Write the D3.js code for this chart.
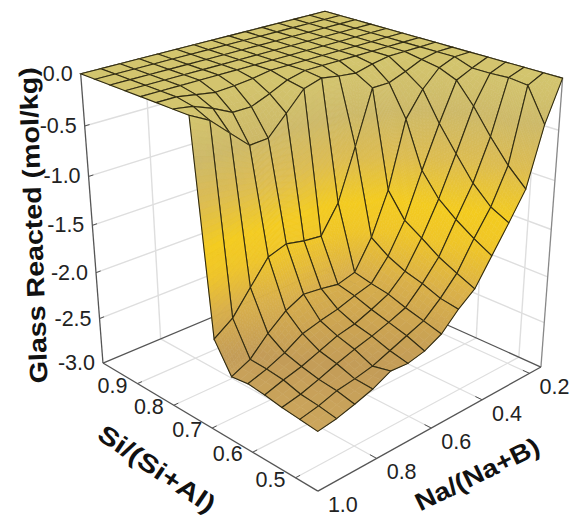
<!DOCTYPE html>
<html>
<head>
<meta charset="utf-8">
<script src="https://cdn.jsdelivr.net/npm/d3@7"></script>
<style>
html, body { margin: 0; padding: 0; background: #fff; }
text { font-family: "Liberation Sans", Arial, sans-serif; fill: #222; }
text.title { fill: #111; font-weight: bold; }
</style>
</head>
<body>
<svg id="chart" width="571" height="516"></svg>
<script>
// grid of the surface
const siGrid = [1.000, 0.961, 0.921, 0.882, 0.843, 0.804, 0.764, 0.725, 0.686, 0.646, 0.607, 0.568, 0.529, 0.489, 0.450];
const naGrid = [0.150, 0.211, 0.271, 0.332, 0.393, 0.454, 0.514, 0.575, 0.636, 0.696, 0.757, 0.818, 0.879, 0.939, 1.000];

// one row per Si value, one column per Na value
const glassReacted = [
  [0, 0, 0, 0, 0, 0, 0, 0, 0, 0, 0, 0, 0, 0, 0],
  [0, 0, 0, 0, 0, 0, 0, 0, 0, 0, 0, 0, 0, 0, 0],
  [0, 0, 0, 0, 0, 0, 0, 0, 0, 0, 0, 0, 0, 0, 0],
  [0, 0, 0, 0, 0, 0, 0, 0, 0, 0, 0, 0, 0, 0, 0],
  [0, 0, 0, 0, 0, 0, 0, 0, 0, 0, 0, 0, 0, 0, 0],
  [0, 0, 0, 0, 0, 0, 0, 0, 0, -0.03, -0.05, -0.06, -0.03, 0, 0],
  [0, 0, 0, 0, 0, 0, 0, 0, -0.04, -0.12, -0.19, -0.19, -0.1, -0.03, 0],
  [0, 0, 0, 0, -0.03, -0.07, -0.05, -0.02, -0.07, -0.25, -0.43, -0.44, -0.27, -0.1, 0],
  [0, 0, -0.03, -0.1, -0.16, -0.16, -0.68, -1.18, -1.45, -1.43, -1.39, -1.45, -1.68, -1.91, -2.04],
  [0, 0, -0.06, -0.22, -0.46, -1.11, -1.53, -1.82, -1.87, -1.84, -1.82, -1.91, -2.06, -2.24, -2.33],
  [0, -0.06, -0.13, -0.5, -0.91, -1.35, -1.65, -1.86, -1.91, -1.97, -2.01, -2.06, -2.17, -2.25, -2.31],
  [0, -0.06, -0.33, -0.74, -1.13, -1.46, -1.73, -1.89, -1.97, -2.04, -2.08, -2.15, -2.22, -2.27, -2.33],
  [0, -0.05, -0.57, -0.97, -1.27, -1.58, -1.78, -1.95, -2.02, -2.08, -2.13, -2.19, -2.26, -2.32, -2.36],
  [0, -0.07, -0.79, -1.14, -1.39, -1.67, -1.85, -2.0, -2.07, -2.14, -2.21, -2.25, -2.28, -2.34, -2.38],
  [0, -0.39, -0.96, -1.23, -1.49, -1.75, -1.88, -2.05, -2.14, -2.18, -2.17, -2.26, -2.32, -2.37, -2.4]
];

const siTicks = [0.9, 0.8, 0.7, 0.6, 0.5];
const naTicks = [1.0, 0.8, 0.6, 0.4, 0.2];
const zTicks = [0, -0.5, -1, -1.5, -2, -2.5, -3];

const colorStops = [0, -0.4, -0.8, -1.2, -1.45, -1.8, -2.2, -2.5];
const colorValues = ['#d3c56e', '#cdb968', '#dcbc50', '#f3cb1f', '#efc528', '#d9b04a', '#c39c58', '#d0ab5e'];

const siScale = d3.scaleLinear().domain([1.0, 0.45]).range([0, 1]);
const naScale = d3.scaleLinear().domain([0.15, 1.0]).range([0, 1]);
const zScale = d3.scaleLinear().domain([-3, 0]).range([0, 1]);
const color = d3.scaleLinear().domain(colorStops).range(colorValues).clamp(true);

// perspective camera fitted to the corners of the box in the picture
function project(si, na, z) {
  const a = siScale(si), b = naScale(na), c = zScale(z);
  const w = 1 - 0.123 * a - 0.123 * b - 0.08 * c;
  return [
    (325 + 149.4 * a - 234.7 * b - 26 * c) / w,
    (270 + 51.9 * a + 48.4 * b - 259.6 * c) / w
  ];
}

const svg = d3.select('#chart');
const line = d3.line();

function seg(g, p, q, stroke, width) {
  g.append('path')
    .attr('d', line([project(...p), project(...q)]))
    .attr('fill', 'none')
    .attr('stroke', stroke)
    .attr('stroke-width', width);
}

// walls and floor
const back = svg.append('g');
const gridColor = '#dedede';
const edgeColor = '#555';
naTicks.filter(n => n < 1).forEach(n => {
  seg(back, [1.0, n, 0], [1.0, n, -3], gridColor, 1.4);
  seg(back, [1.0, n, -3], [0.45, n, -3], gridColor, 1.2);
  seg(back, [0.45, n, -3], [0.465, n, -3], edgeColor, 1);
});
siTicks.forEach(s => {
  seg(back, [s, 0.15, 0], [s, 0.15, -3], gridColor, 1.4);
  seg(back, [s, 0.15, -3], [s, 1.0, -3], gridColor, 1.2);
  seg(back, [s, 1.0, -3], [s, 0.985, -3], edgeColor, 1);
});
zTicks.slice(1, -1).forEach(z => {
  seg(back, [1.0, 1.0, z], [1.0, 0.15, z], gridColor, 1.4);
  seg(back, [1.0, 0.15, z], [0.45, 0.15, z], gridColor, 1.4);
  seg(back, [1.0, 1.0, z], [1.0, 0.985, z], edgeColor, 1);
});
seg(back, [1.0, 1.0, 0], [1.0, 1.0, -3], edgeColor, 1.3);
seg(back, [0.45, 0.15, 0], [0.45, 0.15, -3], '#888', 1.3);
seg(back, [1.0, 1.0, -3], [1.0, 0.15, -3], edgeColor, 1.3);
seg(back, [1.0, 0.15, -3], [0.45, 0.15, -3], edgeColor, 1.3);
seg(back, [1.0, 1.0, -3], [0.45, 1.0, -3], edgeColor, 1.3);
seg(back, [0.45, 1.0, -3], [0.45, 0.15, -3], edgeColor, 1.3);
seg(back, [1.0, 0.15, 0], [1.0, 1.0, 0], '#333', 1.3);
seg(back, [1.0, 0.15, 0], [0.45, 0.15, 0], '#333', 1.3);

// surface, back to front so nearer cells cover farther ones
const surface = svg.append('g');
for (let i = 0; i < siGrid.length - 1; i++) {
  for (let j = 0; j < naGrid.length - 1; j++) {
    const z00 = glassReacted[i][j], z01 = glassReacted[i][j + 1];
    const z10 = glassReacted[i + 1][j], z11 = glassReacted[i + 1][j + 1];
    const range = d3.max([z00, z01, z10, z11]) - d3.min([z00, z01, z10, z11]);
    const n = Math.max(1, Math.ceil(range / 0.06));
    // small patches give the smooth height colouring inside a cell
    for (let u = 0; u < n; u++) {
      for (let v = 0; v < n; v++) {
        const at = (s, t) => {
          const si = siGrid[i] + (siGrid[i + 1] - siGrid[i]) * s;
          const na = naGrid[j] + (naGrid[j + 1] - naGrid[j]) * t;
          const z = z00 * (1 - s) * (1 - t) + z01 * (1 - s) * t + z10 * s * (1 - t) + z11 * s * t;
          return [si, na, z];
        };
        const corners = [at(u / n, v / n), at(u / n, (v + 1) / n), at((u + 1) / n, (v + 1) / n), at((u + 1) / n, v / n)];
        const fill = color(d3.mean(corners, d => d[2]));
        surface.append('path')
          .attr('d', line(corners.map(d => project(...d))) + 'Z')
          .attr('fill', fill)
          .attr('stroke', fill)
          .attr('stroke-width', 0.6);
      }
    }
    const cell = [[i, j], [i, j + 1], [i + 1, j + 1], [i + 1, j]]
      .map(([r, k]) => project(siGrid[r], naGrid[k], glassReacted[r][k]));
    surface.append('path')
      .attr('d', line(cell) + 'Z')
      .attr('fill', 'none')
      .attr('stroke', '#2f2a12')
      .attr('stroke-width', 1.1);
  }
}

// tick labels
const labels = svg.append('g').attr('font-size', 21.5);
zTicks.forEach(z => {
  const p = project(1.0, 1.0, z);
  labels.append('text')
    .attr('x', p[0] - 8)
    .attr('y', p[1] + 7)
    .attr('text-anchor', 'end')
    .text(d3.format('.1f')(z).replace('−', '-'));
});
siTicks.forEach(s => {
  const p = project(s, 1.0, -3);
  labels.append('text')
    .attr('x', p[0] - 10)
    .attr('y', p[1] + 9)
    .attr('text-anchor', 'end')
    .text(d3.format('.1f')(s));
});
naTicks.forEach(n => {
  const p = project(0.45, n, -3);
  labels.append('text')
    .attr('x', p[0] + 10)
    .attr('y', p[1] + 21)
    .text(d3.format('.1f')(n));
});

// axis titles
function title(text, x, y, angle, length) {
  labels.append('text')
    .attr('class', 'title')
    .attr('transform', `translate(${x},${y}) rotate(${angle})`)
    .attr('text-anchor', 'middle')
    .attr('font-size', 25)
    .attr('textLength', length)
    .attr('lengthAdjust', 'spacingAndGlyphs')
    .text(text);
}
title('Glass Reacted (mol/kg)', 42, 225, -92, 316);
title('Si/(Si+Al)', 152, 476, 34, 136);
title('Na/(Na+B)', 481, 482, -26, 135);
</script>
</body>
</html>
